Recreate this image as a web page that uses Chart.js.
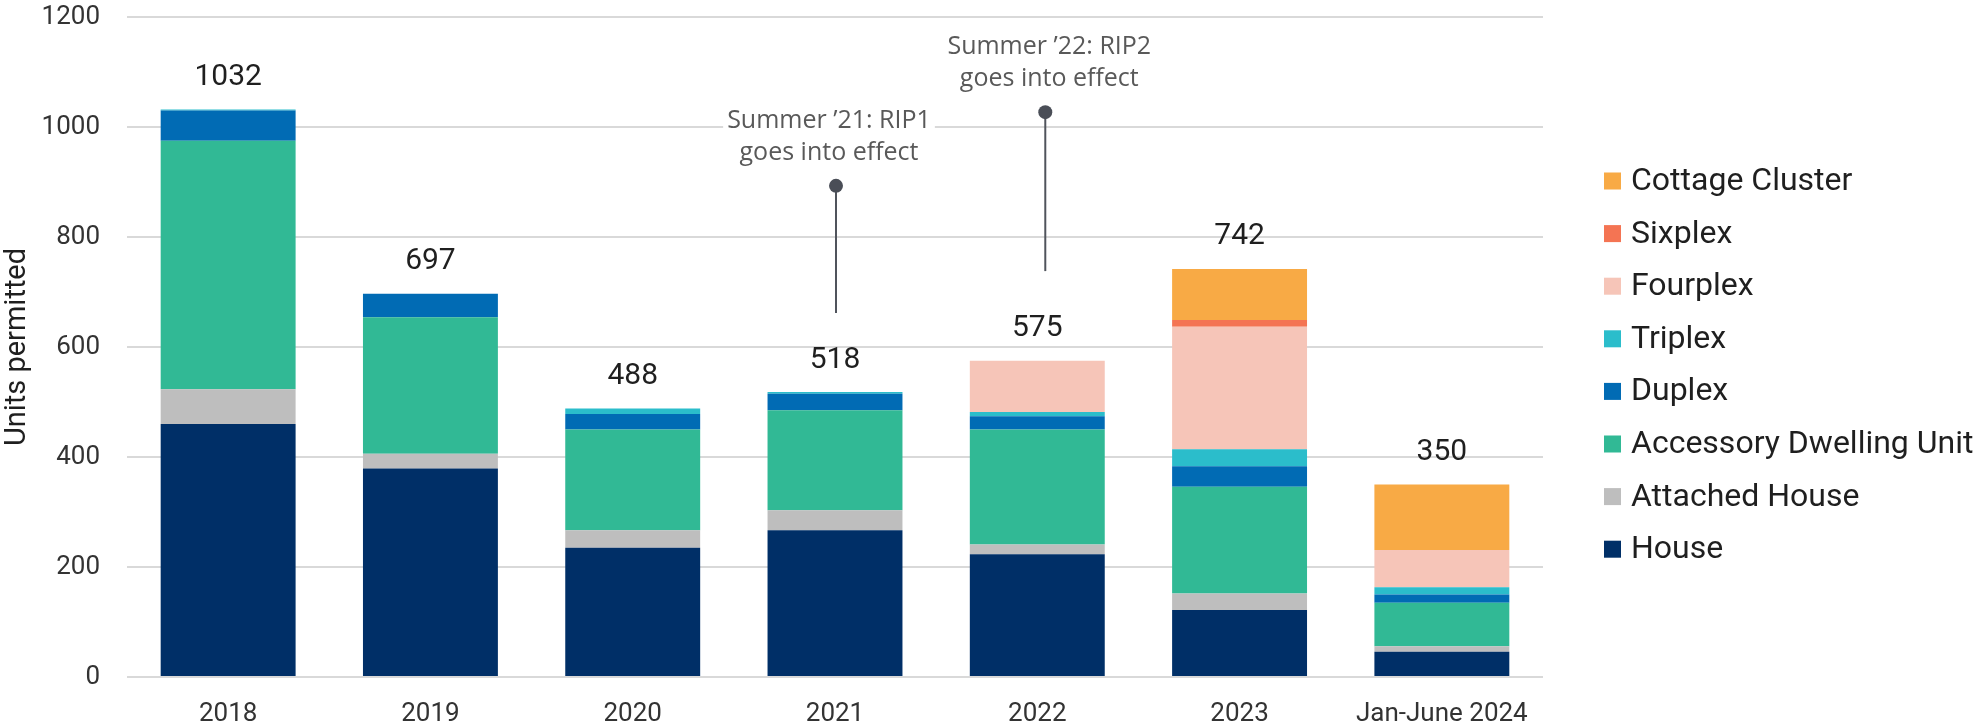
<!DOCTYPE html>
<html lang="en">
<head>
    <meta charset="UTF-8">
    <title>Units permitted by housing type</title>
    <script src="https://cdn.jsdelivr.net/npm/chart.js"></script>
    <style>
        html, body { margin: 0; padding: 0; background: #fff; }
        .chart-box { width: 1979px; height: 724px; position: relative; }
    </style>
</head>
<body>
    <div class="chart-box">
        <canvas id="permits"></canvas>
    </div>

    <script>
        // data
        const categories = ['2018', '2019', '2020', '2021', '2022', '2023', 'Jan-June 2024'];

        const house     = [460, 379, 235, 267, 223, 122, 46];
        const attached  = [63, 27, 32, 36, 18, 30, 10];
        const adu       = [452, 248, 183, 182, 209, 194, 79];
        const duplex    = [55, 43, 28, 30, 24, 37, 15];
        const triplex   = [2, 0, 10, 3, 8, 31, 13];
        const fourplex  = [0, 0, 0, 0, 93, 223, 68];
        const sixplex   = [0, 0, 0, 0, 0, 12, 0];
        const cottage   = [0, 0, 0, 0, 0, 93, 119];

        const yTicks = [0, 200, 400, 600, 800, 1000, 1200];

        // callouts: category index, text lines, dot value, line bottom value
        const notes = [
            { at: 3, lines: ['Summer \u201921: RIP1', 'goes into effect'], top: 893, bottom: 662, dx: 1, tdx: -6 },
            { at: 4, lines: ['Summer \u201922: RIP2', 'goes into effect'], top: 1027, bottom: 738, dx: 8, tdx: 12 }
        ];

        const seriesList = [
            { label: 'House', data: house, color: '#002f67' },
            { label: 'Attached House', data: attached, color: '#bebebe' },
            { label: 'Accessory Dwelling Unit', data: adu, color: '#31b995' },
            { label: 'Duplex', data: duplex, color: '#016bb4' },
            { label: 'Triplex', data: triplex, color: '#2bbdcb' },
            { label: 'Fourplex', data: fourplex, color: '#f6c5b8' },
            { label: 'Sixplex', data: sixplex, color: '#f47453' },
            { label: 'Cottage Cluster', data: cottage, color: '#f8aa45' }
        ];

        // totals above each bar
        const totalsPlugin = {
            id: 'totals',
            afterDatasetsDraw(chart) {
                const ctx = chart.ctx;
                const x = chart.scales.x, y = chart.scales.y;
                ctx.save();
                ctx.font = '30px Roboto';
                ctx.fillStyle = '#1f1f1f';
                ctx.textAlign = 'center';
                ctx.textBaseline = 'middle';
                categories.forEach((c, i) => {
                    let sum = 0;
                    chart.data.datasets.forEach(ds => { sum += ds.data[i]; });
                    ctx.fillText(String(sum), x.getPixelForValue(i), y.getPixelForValue(sum) - 32);
                });
                ctx.restore();
            }
        };

        // RIP callout lines
        const notesPlugin = {
            id: 'notes',
            afterDatasetsDraw(chart) {
                const ctx = chart.ctx;
                const x = chart.scales.x, y = chart.scales.y;
                ctx.save();
                notes.forEach(n => {
                    const px = x.getPixelForValue(n.at) + n.dx;
                    const yTop = y.getPixelForValue(n.top);
                    const yBot = y.getPixelForValue(n.bottom);
                    ctx.strokeStyle = '#50545c';
                    ctx.lineWidth = 2;
                    ctx.beginPath();
                    ctx.moveTo(px, yTop);
                    ctx.lineTo(px, yBot);
                    ctx.stroke();
                    ctx.fillStyle = '#4a4e57';
                    ctx.beginPath();
                    ctx.arc(px, yTop, 7, 0, Math.PI * 2);
                    ctx.fill();

                    ctx.font = '25px "Open Sans"';
                    ctx.textAlign = 'center';
                    ctx.textBaseline = 'middle';
                    const tx = x.getPixelForValue(n.at) + n.tdx;
                    n.lines.forEach((t, k) => {
                        const ty = yTop - 65 + k * 32;
                        const w = ctx.measureText(t).width;
                        ctx.fillStyle = '#fff';
                        ctx.fillRect(tx - w / 2 - 4, ty - 14, w + 8, 28);
                        ctx.fillStyle = '#595959';
                        ctx.fillText(t, tx, ty);
                    });
                });
                ctx.restore();
            }
        };

        // legend on the right, top item is the last series
        const legendPlugin = {
            id: 'sideLegend',
            afterDraw(chart) {
                const ctx = chart.ctx;
                const area = chart.chartArea;
                const items = chart.data.datasets.slice().reverse();
                const left = area.right + 61;
                const step = 52.6;
                const first = 181;
                ctx.save();
                ctx.font = '32px Roboto';
                ctx.textBaseline = 'middle';
                ctx.textAlign = 'left';
                items.forEach((ds, k) => {
                    const cy = first + k * step;
                    ctx.fillStyle = ds.backgroundColor;
                    ctx.fillRect(left, cy - 8.5, 17, 17);
                    ctx.fillStyle = '#1f1f1f';
                    ctx.fillText(ds.label, left + 27, cy + 1);
                });
                ctx.restore();
            }
        };

        new Chart(document.getElementById('permits'), {
            type: 'bar',
            data: {
                labels: categories,
                datasets: seriesList.map(s => ({
                    label: s.label,
                    data: s.data,
                    backgroundColor: s.color,
                    borderWidth: 0,
                    categoryPercentage: 1,
                    barPercentage: 0.667
                }))
            },
            options: {
                responsive: true,
                maintainAspectRatio: false,
                animation: false,
                layout: { padding: { top: 17, right: 436, left: 0, bottom: 0 } },
                plugins: {
                    legend: { display: false },
                    tooltip: { enabled: false }
                },
                scales: {
                    x: {
                        stacked: true,
                        grid: { display: false },
                        border: { display: false },
                        ticks: {
                            color: '#333',
                            font: { family: 'Roboto', size: 26 },
                            padding: 14,
                            maxRotation: 0
                        },
                        afterFit(scale) {
                            scale.height = 47;
                            scale.paddingLeft = 0;
                            scale.paddingRight = 0;
                        }
                    },
                    y: {
                        stacked: true,
                        min: 0,
                        max: 1200,
                        afterBuildTicks(scale) { scale.ticks = yTicks.map(v => ({ value: v })); },
                        grid: { color: '#d9d9d9', lineWidth: 2, drawTicks: false },
                        border: { display: false },
                        ticks: {
                            color: '#333',
                            font: { family: 'Roboto', size: 26 },
                            padding: 27,
                            callback: v => String(v)
                        },
                        title: {
                            display: true,
                            text: 'Units permitted',
                            color: '#1f1f1f',
                            font: { family: 'Roboto', size: 29 },
                            padding: { top: 0, bottom: 0 }
                        },
                        afterFit(scale) {
                            scale.width = 127;
                            scale.paddingTop = 0;
                            scale.paddingBottom = 0;
                        }
                    }
                }
            },
            plugins: [totalsPlugin, notesPlugin, legendPlugin]
        });
    </script>
</body>
</html>
